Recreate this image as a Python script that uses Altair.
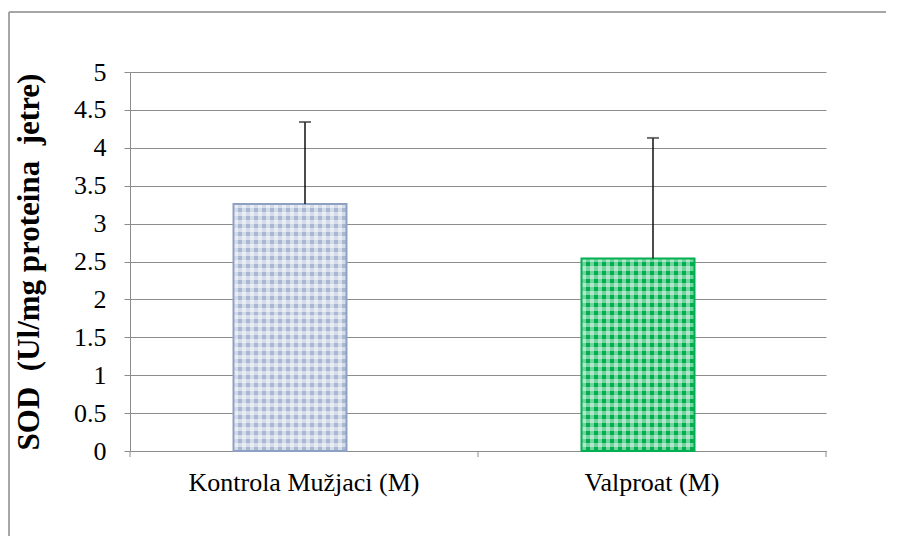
import altair as alt
import pandas as pd

categories = ["Kontrola Mužjaci (M)", "Valproat (M)"]
means = [3.26, 2.54]
errors = [1.08, 1.59]
base_fills = ["#A9B8D2", "#00B050"]
strokes = ["#8FA1C2", "#00B050"]

df = pd.DataFrame({
    "cat": categories,
    "mean": means,
    "err": errors,
    "fill": base_fills,
    "stroke": strokes,
})
df["upper"] = df["mean"] + df["err"]

W, H = 696, 379
FONT = "Liberation Serif"
y_ticks = [0, 0.5, 1, 1.5, 2, 2.5, 3, 3.5, 4, 4.5, 5]

xsc = alt.Scale(domain=categories, paddingInner=0, paddingOuter=0)
ysc = alt.Scale(domain=[0, 5], nice=False)

x_axis = alt.Axis(title=None, labelAngle=0, labelFont=FONT, labelFontSize=26,
                  labelFontWeight="normal", labelLimit=0, labelColor="black",
                  ticks=False, domainColor="#8C8C8C",
                  domainWidth=1, labelPadding=18, grid=False)
y_axis = alt.Axis(values=y_ticks, labelExpr="'' + datum.value", labelOverlap=False,
                  labelFont=FONT, labelFontSize=26, labelFontWeight="normal",
                  labelColor="black",
                  tickColor="#8C8C8C", tickSize=6, domainColor="#8C8C8C",
                  grid=True, gridColor="#8C8C8C", gridWidth=1, labelPadding=18,
                  title="SOD\u00a0\u00a0(Ul/mg proteina\u00a0\u00a0jetre)",
                  titleFont=FONT, titleFontSize=31, titleFontWeight="bold",
                  titleColor="black", titleX=-101, titleBaseline="middle")

X = alt.X("cat:N", scale=xsc, sort=categories, axis=x_axis)
Y = alt.Y("mean:Q", scale=ysc, axis=y_axis)

base = alt.Chart(df)
BAR = dict(width=113, xOffset=-14)


def stripes(n, color, horizontal):
    stops = []
    for k in range(n):
        a, m, b = k / n, (k + 0.5) / n, (k + 1) / n
        stops += [alt.GradientStop(offset=a, color=color),
                  alt.GradientStop(offset=m, color=color),
                  alt.GradientStop(offset=m, color="rgba(255,255,255,0)"),
                  alt.GradientStop(offset=b, color="rgba(255,255,255,0)")]
    if horizontal:
        return alt.Gradient(gradient="linear", stops=stops, x1=0, x2=0, y1=0, y2=1)
    return alt.Gradient(gradient="linear", stops=stops, x1=0, x2=1, y1=0, y2=0)


bars = base.mark_bar(strokeWidth=0, **BAR).encode(
    x=X, y=Y, fill=alt.Fill("fill:N", scale=None),
)

texture_layers = []
row_counts = [31, 24]
col_count = 14
whites = ["rgba(255,255,255,0.5)", "rgba(255,255,255,0.45)"]
for i, cat in enumerate(categories):
    sub = base.transform_filter(alt.datum.cat == cat)
    texture_layers.append(sub.mark_bar(strokeWidth=0, fill=stripes(row_counts[i], whites[i], True), **BAR)
                          .encode(x=X, y=Y))
    texture_layers.append(sub.mark_bar(strokeWidth=0, fill=stripes(col_count, whites[i], False), **BAR)
                          .encode(x=X, y=Y))

outline = base.mark_bar(fillOpacity=0, strokeWidth=2, **BAR).encode(
    x=X, y=Y, stroke=alt.Stroke("stroke:N", scale=None),
)

err_rule = base.mark_rule(color="#111111", strokeWidth=1.5, xOffset=1).encode(
    x=X, y=Y, y2="upper:Q",
)

err_cap = base.mark_tick(color="#333333", thickness=2, size=12, xOffset=1).encode(
    x=X, y=alt.Y("upper:Q", scale=ysc, axis=y_axis),
)

ticks_left = base.mark_rule(color="#8C8C8C").encode(
    x=alt.X("cat:N", scale=xsc, sort=categories, bandPosition=0, axis=x_axis),
    y=alt.value(H),
    y2=alt.value(H + 6),
)
ticks_right = base.transform_filter(alt.datum.cat == categories[-1]).mark_rule(color="#8C8C8C").encode(
    x=alt.X("cat:N", scale=xsc, sort=categories, bandPosition=1, axis=x_axis),
    y=alt.value(H),
    y2=alt.value(H + 6),
)

frame_top = base.mark_rule(color="#A6A6A6", strokeWidth=2).encode(
    x=alt.value(-121), x2=alt.value(W + 200), y=alt.value(-60)
)
frame_left = base.mark_rule(color="#A6A6A6", strokeWidth=2).encode(
    x=alt.value(-121), y=alt.value(-60), y2=alt.value(H + 200)
)

chart = alt.layer(bars, *texture_layers, outline, err_rule, err_cap, ticks_left, ticks_right,
                  frame_top, frame_left).properties(
    width=W, height=H,
    autosize=alt.AutoSizeParams(type="none"),
    padding={"left": 122, "top": 64, "right": 60, "bottom": 85},
).configure_view(stroke=None).configure_axis(labelFont=FONT, titleFont=FONT)

chart.save("out.html", embed_options={"renderer": "svg", "actions": False})
